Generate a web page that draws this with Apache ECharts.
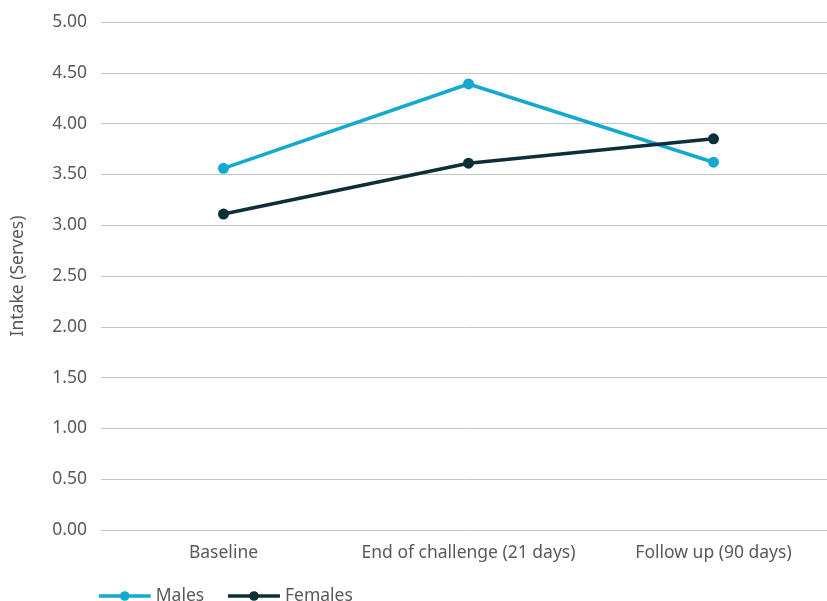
<!DOCTYPE html>
<html><head><meta charset="utf-8">
<script src="https://cdn.jsdelivr.net/npm/echarts@6/dist/echarts.min.js"></script>
<style>html,body{margin:0;padding:0;background:#fff}#c{width:827px;height:601px}</style>
</head><body><div id="c"></div>
<script>
const categories = ["Baseline", "End of challenge (21 days)", "Follow up (90 days)"];
const males = [3.56, 4.39, 3.62];
const females = [3.11, 3.61, 3.85];
const yTicks = [0, 0.5, 1, 1.5, 2, 2.5, 3, 3.5, 4, 4.5, 5];

const font = "Noto Sans";
const txt = '#595959';
const chart = echarts.init(document.getElementById('c'));
chart.setOption({
  animation: false,
  textStyle: {fontFamily: font},
  grid: {left: 101, width: 735, top: 22, bottom: 71, containLabel: false, outerBoundsMode: 'none'},
  legend: {
    left: 92, top: 582, itemWidth: 52, itemHeight: 12, itemGap: 22,
    lineStyle: {width: 3.5},
    textStyle: {fontSize: 17.5, color: txt, fontFamily: font},
    data: ['Males', 'Females']
  },
  xAxis: {
    type: 'category', data: categories, boundaryGap: true,
    axisLine: {show: false}, axisTick: {show: false},
    axisLabel: {fontSize: 17.5, color: txt, margin: 14, fontFamily: font, interval: 0, hideOverlap: false}
  },
  yAxis: {
    type: 'value', min: 0, max: 5, interval: 0.5,
    name: 'Intake (Serves)', nameLocation: 'middle', nameGap: 74, nameRotate: 90,
    nameTextStyle: {fontSize: 17.5, color: txt, fontFamily: font},
    axisLine: {show: false}, axisTick: {show: false},
    axisLabel: {fontSize: 17.5, color: txt, margin: 14, fontFamily: font,
      formatter: v => yTicks.includes(v) ? v.toFixed(2) : ''},
    splitLine: {lineStyle: {color: '#c4c4c4', width: 1}}
  },
  series: [
    {name: 'Males', type: 'line', data: males, color: '#14a9d0',
     symbol: 'circle', symbolSize: 11, lineStyle: {width: 3.5}},
    {name: 'Females', type: 'line', data: females, color: '#0d2f3a',
     symbol: 'circle', symbolSize: 11, lineStyle: {width: 3.5}}
  ]
});
</script></body></html>
